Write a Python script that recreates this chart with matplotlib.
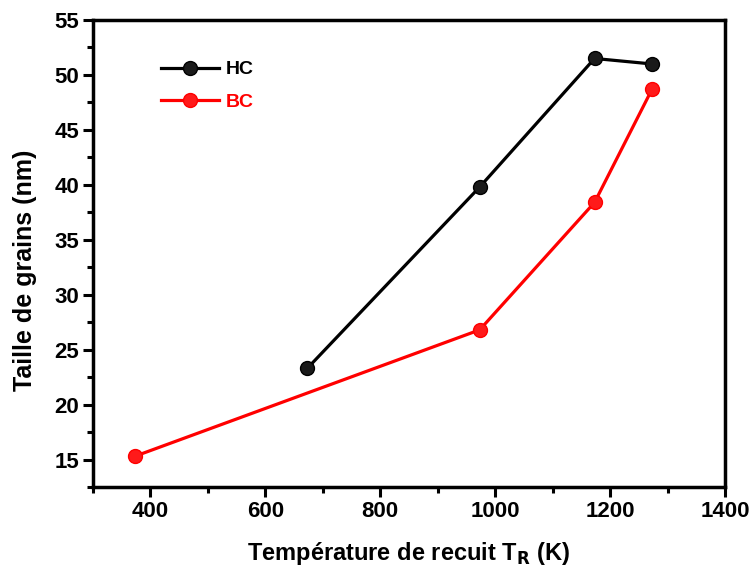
import numpy as np
import matplotlib.pyplot as plt
from matplotlib.ticker import MultipleLocator

plt.rcParams['font.family'] = ['Liberation Sans', 'DejaVu Sans']
plt.rcParams['font.weight'] = 'bold'
plt.rcParams['mathtext.default'] = 'bf'

# temperatures de recuit (K)
t_hc = [673, 973, 1173, 1273]
hc = [23.3, 39.8, 51.5, 51.0]
t_bc = [373, 973, 1173, 1273]
bc = [15.3, 26.8, 38.4, 48.7]

fig = plt.figure(figsize=(7.53, 5.72), dpi=100)
ax = fig.add_axes([0.1235, 0.1486, 0.8393, 0.8164])

ax.plot(t_hc, hc, '-o', color='black', lw=2.3, ms=10, mfc='#1a1a1a', mec='black', label='HC')
ax.plot(t_bc, bc, '-o', color='red', lw=2.3, ms=10, mfc='#ff1a1a', mec='red', label='BC')

ax.set_xlim(300, 1400)
ax.set_ylim(12.5, 55)
ax.xaxis.set_major_locator(MultipleLocator(200))
ax.xaxis.set_minor_locator(MultipleLocator(100))
ax.yaxis.set_major_locator(MultipleLocator(5))
ax.yaxis.set_minor_locator(MultipleLocator(2.5))
ax.tick_params(which='major', direction='out', length=7, width=2.2, labelsize=16, pad=3)
ax.tick_params(which='minor', direction='out', length=4, width=2.2)
for s in ax.spines.values():
    s.set_linewidth(2.5)

ax.set_xlabel('Température de recuit T$_R$ (K)', fontsize=17, fontweight='bold', labelpad=13)
ax.set_ylabel('Taille de grains (nm)', fontsize=18, fontweight='bold')
ax.yaxis.set_label_coords(-0.088, 0.465)

leg = ax.legend(loc='upper left', bbox_to_anchor=(0.08, 0.95), frameon=False,
                fontsize=14, handlelength=3.0, handletextpad=0.35, labelspacing=0.75)
for txt, c in zip(leg.get_texts(), ['black', 'red']):
    txt.set_color(c)

fig.savefig('out.png', dpi=100)
